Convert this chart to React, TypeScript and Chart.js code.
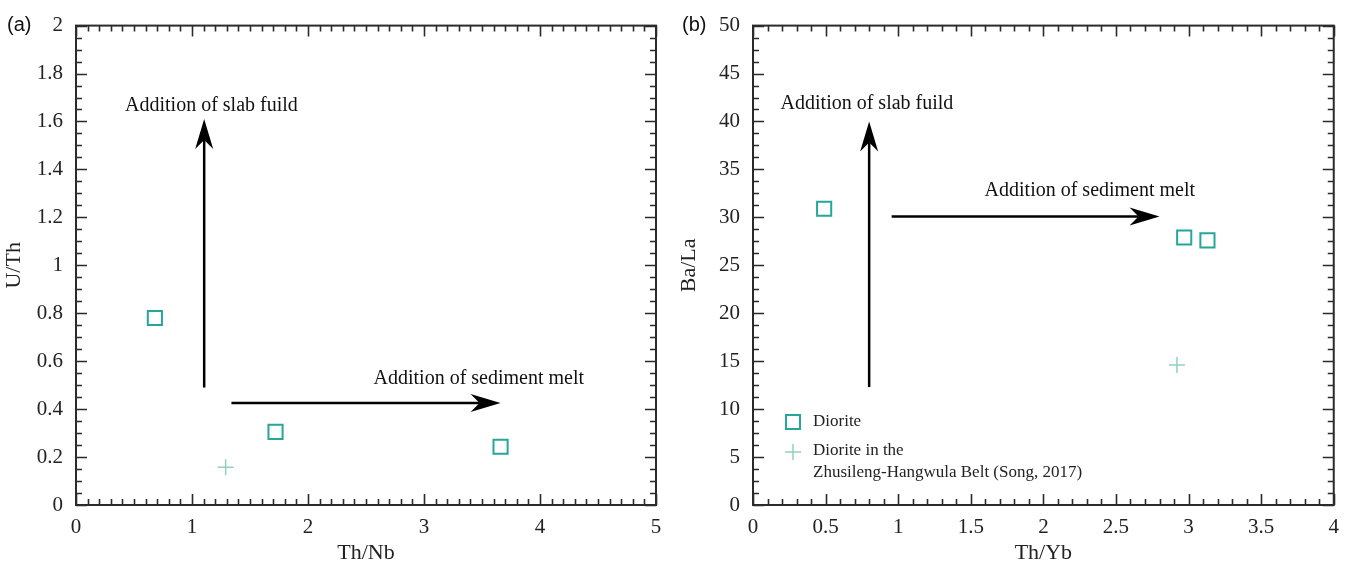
import React, { useEffect, useRef } from 'react';
import { Chart, registerables } from 'chart.js';

Chart.register(...registerables);

// ---------- data ----------
// Panel (a): Th/Nb vs U/Th
const dioriteA_x = [0.68, 1.72, 3.66];
const dioriteA_y = [0.78, 0.305, 0.243];
const songA_x = [1.29];
const songA_y = [0.157];
const xTicksA = [0, 1, 2, 3, 4, 5];
const yTicksA = [0, 0.2, 0.4, 0.6, 0.8, 1, 1.2, 1.4, 1.6, 1.8, 2];

// Panel (b): Th/Yb vs Ba/La
const dioriteB_x = [0.49, 2.97, 3.13];
const dioriteB_y = [30.9, 27.9, 27.6];
const songB_x = [2.92];
const songB_y = [14.6];
const xTicksB = [0, 0.5, 1, 1.5, 2, 2.5, 3, 3.5, 4];
const yTicksB = [0, 5, 10, 15, 20, 25, 30, 35, 40, 45, 50];

// arrows (data coords): [x1, y1, x2, y2]
const arrowsA = [
  [1.105, 0.49, 1.105, 1.61],
  [1.34, 0.426, 3.66, 0.426],
];
const arrowsB = [
  [0.8, 12.3, 0.8, 40.0],
  [0.955, 30.1, 2.8, 30.1],
];
// annotation labels: [x (left), y (middle), text]
const labelsA: [number, number, string][] = [
  [0.423, 1.666, 'Addition of slab fuild'],
  [2.565, 0.528, 'Addition of sediment melt'],
];
const labelsB: [number, number, string][] = [
  [0.19, 41.9, 'Addition of slab fuild'],
  [1.595, 32.8, 'Addition of sediment melt'],
];

const SQUARE_COLOR = '#26a69a';
const CROSS_COLOR = '#93cfc0';
const AXIS_COLOR = '#2b2b2b';
const SERIF = '"Liberation Serif", "Times New Roman", serif';
const SANS = '"Liberation Sans", Arial, sans-serif';

function toPoints(xs: number[], ys: number[]) {
  return xs.map((x, i) => ({ x, y: ys[i] }));
}

function drawArrow(ctx: CanvasRenderingContext2D, x1: number, y1: number, x2: number, y2: number) {
  const ang = Math.atan2(y2 - y1, x2 - x1);
  const L = 30, W = 9, N = 9;
  ctx.save();
  ctx.strokeStyle = '#000';
  ctx.fillStyle = '#000';
  ctx.lineWidth = 2.5;
  ctx.beginPath();
  ctx.moveTo(x1, y1);
  ctx.lineTo(x2 - Math.cos(ang) * (L - N), y2 - Math.sin(ang) * (L - N));
  ctx.stroke();
  ctx.translate(x2, y2);
  ctx.rotate(ang);
  ctx.beginPath();
  ctx.moveTo(0, 0);
  ctx.lineTo(-L, -W);
  ctx.lineTo(-L + N, 0);
  ctx.lineTo(-L, W);
  ctx.closePath();
  ctx.fill();
  ctx.restore();
}

interface PanelDef {
  tag: string;
  xTitle: string;
  yTitle: string;
  xMin: number; xMax: number; yMin: number; yMax: number;
  xTicks: number[]; yTicks: number[];
  xMinor: number; yMinor: number;
  squares: { x: number; y: number }[];
  crosses: { x: number; y: number }[];
  arrows: number[][];
  labels: [number, number, string][];
  legend: boolean;
  yAxisWidth: number;
  padRight: number;
  width: number;
  left: number;
}

function Panel({ def }: { def: PanelDef }) {
  const ref = useRef<HTMLCanvasElement>(null);
  useEffect(() => {
    const canvas = ref.current!;
    const overlay = {
      id: 'overlay',
      afterDraw(chart: any) {
        const ctx: CanvasRenderingContext2D = chart.ctx;
        const { left, right, top, bottom } = chart.chartArea;
        const xs = chart.scales.x;
        const ys = chart.scales.y;
        ctx.save();
        // frame
        ctx.strokeStyle = AXIS_COLOR;
        ctx.lineWidth = 2;
        ctx.strokeRect(left, top, right - left, bottom - top);
        ctx.lineWidth = 1.6;
        const isMajor = (v: number, arr: number[]) => arr.some((t) => Math.abs(t - v) < 1e-6);
        // x ticks
        const nx = Math.round((def.xMax - def.xMin) / def.xMinor);
        for (let i = 0; i <= nx; i++) {
          const v = def.xMin + i * def.xMinor;
          const px = Math.round(xs.getPixelForValue(v)) + 0.5;
          const len = isMajor(v, def.xTicks) ? 11 : 6;
          ctx.beginPath();
          ctx.moveTo(px, bottom); ctx.lineTo(px, bottom - len);
          ctx.moveTo(px, top); ctx.lineTo(px, top + len);
          ctx.stroke();
        }
        const ny = Math.round((def.yMax - def.yMin) / def.yMinor);
        for (let i = 0; i <= ny; i++) {
          const v = def.yMin + i * def.yMinor;
          const py = Math.round(ys.getPixelForValue(v)) + 0.5;
          const len = isMajor(v, def.yTicks) ? 11 : 6;
          ctx.beginPath();
          ctx.moveTo(left, py); ctx.lineTo(left + len, py);
          ctx.moveTo(right, py); ctx.lineTo(right - len, py);
          ctx.stroke();
        }
        // arrows
        def.arrows.forEach((a) => {
          drawArrow(ctx, xs.getPixelForValue(a[0]), ys.getPixelForValue(a[1]), xs.getPixelForValue(a[2]), ys.getPixelForValue(a[3]));
        });
        // labels
        ctx.fillStyle = '#111';
        ctx.font = `20px ${SERIF}`;
        ctx.textAlign = 'left';
        ctx.textBaseline = 'middle';
        def.labels.forEach(([x, y, t]) => {
          ctx.fillText(t, xs.getPixelForValue(x), ys.getPixelForValue(y));
        });
        // panel tag
        ctx.font = `20px ${SANS}`;
        ctx.fillStyle = '#111';
        ctx.fillText(def.tag, 7, 25);
        // legend
        if (def.legend) {
          const lx = left + 40;
          const y1 = bottom - 83;
          const y2 = bottom - 53;
          ctx.strokeStyle = SQUARE_COLOR;
          ctx.lineWidth = 2;
          ctx.strokeRect(lx - 7, y1 - 7, 14, 14);
          ctx.strokeStyle = CROSS_COLOR;
          ctx.lineWidth = 1.5;
          ctx.beginPath();
          ctx.moveTo(lx - 8, y2); ctx.lineTo(lx + 8, y2);
          ctx.moveTo(lx, y2 - 8); ctx.lineTo(lx, y2 + 8);
          ctx.stroke();
          ctx.fillStyle = '#222';
          ctx.font = `17px ${SERIF}`;
          ctx.fillText('Diorite', lx + 20, y1);
          ctx.fillText('Diorite in the', lx + 20, y2 - 1);
          ctx.fillText('Zhusileng-Hangwula Belt (Song, 2017)', lx + 20, y2 + 21);
        }
        ctx.restore();
      },
    };
    const chart = new Chart(canvas, {
      type: 'scatter',
      data: {
        datasets: [
          {
            label: 'Diorite',
            data: def.squares,
            pointStyle: 'rect',
            pointRadius: 10,
            pointBorderWidth: 2,
            borderColor: SQUARE_COLOR,
            backgroundColor: 'rgba(0,0,0,0)',
          },
          {
            label: 'Diorite in the Zhusileng-Hangwula Belt (Song, 2017)',
            data: def.crosses,
            pointStyle: 'cross',
            pointRadius: 8,
            pointBorderWidth: 1.5,
            borderColor: CROSS_COLOR,
            backgroundColor: CROSS_COLOR,
          },
        ],
      },
      options: {
        responsive: false,
        animation: false,
        events: [],
        layout: { padding: { top: 20, right: def.padRight, left: 0, bottom: 0 } },
        plugins: { legend: { display: false }, tooltip: { enabled: false } },
        scales: {
          x: {
            type: 'linear',
            min: def.xMin,
            max: def.xMax,
            grid: { display: false, drawTicks: false },
            border: { display: false },
            afterBuildTicks: (s: any) => { s.ticks = def.xTicks.map((v) => ({ value: v })); },
            afterFit: (s: any) => { s.height = 65; },
            ticks: {
              autoSkip: false,
              maxRotation: 0,
              padding: 10,
              color: '#222',
              font: { family: SERIF, size: 21 },
              callback: (v: any) => String(v),
            },
            title: {
              display: true,
              text: def.xTitle,
              color: '#222',
              font: { family: SERIF, size: 22 },
              padding: { top: 0, bottom: 4 },
            },
          },
          y: {
            type: 'linear',
            min: def.yMin,
            max: def.yMax,
            grid: { display: false, drawTicks: false },
            border: { display: false },
            afterBuildTicks: (s: any) => { s.ticks = def.yTicks.map((v) => ({ value: v })); },
            afterFit: (s: any) => { s.width = def.yAxisWidth; },
            ticks: {
              autoSkip: false,
              padding: 13,
              color: '#222',
              font: { family: SERIF, size: 21 },
              callback: (v: any) => String(v),
            },
            title: {
              display: true,
              text: def.yTitle,
              color: '#222',
              font: { family: SERIF, size: 22 },
              padding: { top: 1, bottom: 0 },
            },
          },
        },
      },
      plugins: [overlay],
    } as any);
    return () => chart.destroy();
  }, [def]);
  return (
    <canvas
      ref={ref}
      width={def.width}
      height={570}
      style={{ position: 'absolute', left: def.left, top: 0, display: 'block' }}
    />
  );
}

const panelA: PanelDef = {
  tag: '(a)',
  xTitle: 'Th/Nb',
  yTitle: 'U/Th',
  xMin: 0, xMax: 5, yMin: 0, yMax: 2,
  xTicks: xTicksA, yTicks: yTicksA,
  xMinor: 0.1, yMinor: 0.05,
  squares: toPoints(dioriteA_x, dioriteA_y),
  crosses: toPoints(songA_x, songA_y),
  arrows: arrowsA,
  labels: labelsA,
  legend: false,
  yAxisWidth: 76,
  padRight: 19,
  width: 675,
  left: 0,
};

const panelB: PanelDef = {
  tag: '(b)',
  xTitle: 'Th/Yb',
  yTitle: 'Ba/La',
  xMin: 0, xMax: 4, yMin: 0, yMax: 50,
  xTicks: xTicksB, yTicks: yTicksB,
  xMinor: 0.1, yMinor: 1.25,
  squares: toPoints(dioriteB_x, dioriteB_y),
  crosses: toPoints(songB_x, songB_y),
  arrows: arrowsB,
  labels: labelsB,
  legend: true,
  yAxisWidth: 78,
  padRight: 14,
  width: 674,
  left: 675,
};

export default function App() {
  return (
    <div style={{ position: 'fixed', left: 0, top: 0, width: 1349, height: 570, background: '#fff', overflow: 'hidden' }}>
      <Panel def={panelA} />
      <Panel def={panelB} />
    </div>
  );
}
